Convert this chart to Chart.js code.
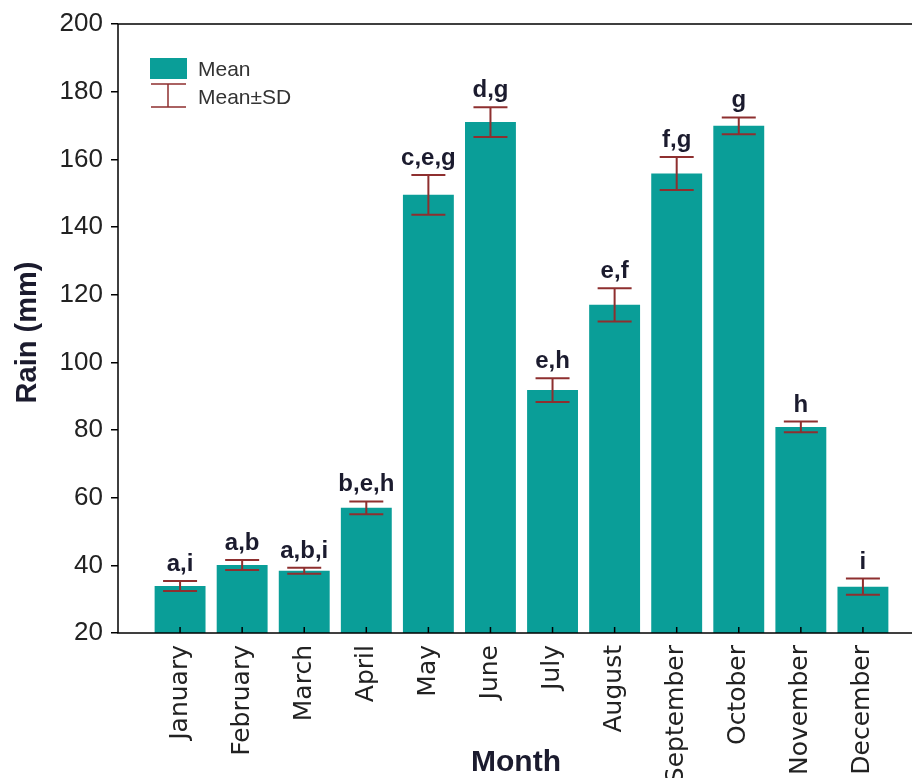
<!DOCTYPE html>
<html lang="en">
<head>
  <meta charset="UTF-8">
  <title>Rain (mm) by month</title>
  <script src="https://cdn.jsdelivr.net/npm/chart.js"></script>
  <style>
    body { margin: 0; background: #fff; overflow: hidden; }
    .wrap { width: 925px; height: 778px; }
  </style>
</head>
<body>
  <div class="wrap"><canvas id="grafico"></canvas></div>

  <script>
    // data
    const months = ['January', 'February', 'March', 'April', 'May', 'June',
                    'July', 'August', 'September', 'October', 'November', 'December'];
    const means  = [33.9, 40.1, 38.4, 57.0, 149.5, 171.0, 91.8, 117.0, 155.8, 169.9, 80.9, 33.7];
    const sds    = [1.5, 1.5, 0.9, 1.9, 5.9, 4.4, 3.5, 4.9, 4.9, 2.5, 1.6, 2.4];
    const groups = ['a,i', 'a,b', 'a,b,i', 'b,e,h', 'c,e,g', 'd,g', 'e,h', 'e,f', 'f,g', 'g', 'h', 'i'];

    const teal = '#0a9e98';
    const errColor = '#8e2f2f';

    // error bars, letters, frame, legend and axis titles
    const extras = {
      id: 'extras',
      afterDatasetsDraw(chart) {
        const { ctx, chartArea: a, scales: { x, y } } = chart;
        ctx.save();

        // error bars + group letters
        means.forEach((m, i) => {
          const px = x.getPixelForValue(i);
          const top = y.getPixelForValue(m + sds[i]);
          const bot = y.getPixelForValue(m - sds[i]);
          ctx.strokeStyle = errColor;
          ctx.lineWidth = 2;
          ctx.beginPath();
          ctx.moveTo(px, top); ctx.lineTo(px, bot);
          ctx.moveTo(px - 17, top); ctx.lineTo(px + 17, top);
          ctx.moveTo(px - 17, bot); ctx.lineTo(px + 17, bot);
          ctx.stroke();

          ctx.fillStyle = '#1b1b2e';
          ctx.font = 'bold 24px Arial, "Liberation Sans"';
          ctx.textAlign = 'center';
          ctx.textBaseline = 'alphabetic';
          ctx.fillText(groups[i], px, top - 10);
        });

        // frame
        ctx.strokeStyle = '#000';
        ctx.lineWidth = 1.5;
        ctx.strokeRect(a.left, a.top, a.width, a.height);

        // x ticks pointing inward
        ctx.beginPath();
        months.forEach((m, i) => {
          const px = x.getPixelForValue(i);
          ctx.moveTo(px, a.bottom); ctx.lineTo(px, a.bottom - 6);
        });
        ctx.stroke();

        // legend
        const lx = a.left + 32, ly = a.top + 34;
        ctx.fillStyle = teal;
        ctx.fillRect(lx, ly, 37, 21);
        ctx.strokeStyle = errColor;
        ctx.lineWidth = 1.5;
        ctx.beginPath();
        ctx.moveTo(lx + 1, ly + 26); ctx.lineTo(lx + 36, ly + 26);
        ctx.moveTo(lx + 18, ly + 26); ctx.lineTo(lx + 18, ly + 49);
        ctx.moveTo(lx + 1, ly + 49); ctx.lineTo(lx + 36, ly + 49);
        ctx.stroke();
        ctx.fillStyle = '#333';
        ctx.font = '21px Arial, "Liberation Sans"';
        ctx.textAlign = 'left';
        ctx.textBaseline = 'middle';
        ctx.fillText('Mean', lx + 48, ly + 12);
        ctx.fillText('Mean\u00B1SD', lx + 48, ly + 40);

        // axis titles
        ctx.fillStyle = '#1b1b2e';
        ctx.font = 'bold 30px Arial, "Liberation Sans"';
        ctx.textAlign = 'center';
        ctx.textBaseline = 'alphabetic';
        ctx.fillText('Month', 516, 771);

        ctx.save();
        ctx.translate(28, (a.top + a.bottom) / 2 + 4);
        ctx.rotate(-Math.PI / 2);
        ctx.textBaseline = 'middle';
        ctx.font = 'bold 29px Arial, "Liberation Sans"';
        ctx.fillText('Rain (mm)', 0, 0);
        ctx.restore();

        ctx.restore();
      }
    };

    new Chart(document.getElementById('grafico'), {
      type: 'bar',
      data: {
        datasets: [{
          label: 'Mean',
          data: means.map((v, i) => ({ x: i, y: v })),
          backgroundColor: teal,
          borderWidth: 0,
          barPercentage: 0.82,
          categoryPercentage: 1
        }]
      },
      options: {
        responsive: true,
        maintainAspectRatio: false,
        animation: false,
        layout: { padding: { top: 24, left: 0, right: 0, bottom: 0 } },
        plugins: { legend: { display: false }, tooltip: { enabled: false } },
        scales: {
          x: {
            type: 'linear',
            min: -1,
            max: 12,
            offset: false,
            afterFit(scale) { scale.height = 145; },
            afterBuildTicks(scale) {
              scale.ticks = months.map((m, i) => ({ value: i }));
            },
            grid: { display: false, drawTicks: false },
            border: { display: false },
            ticks: {
              autoSkip: false,
              maxRotation: 90,
              minRotation: 90,
              padding: 12,
              color: '#222',
              font: { family: '"DejaVu Sans"', size: 25 },
              callback: v => months[v] ?? ''
            }
          },
          y: {
            min: 20,
            max: 200,
            afterFit(scale) { scale.width = 118; },
            grid: { drawOnChartArea: false, drawTicks: true, tickLength: 7, color: '#000', lineWidth: 1.5 },
            border: { display: false },
            ticks: {
              stepSize: 20,
              padding: 8,
              color: '#222',
              font: { family: 'Arial, "Liberation Sans"', size: 26 }
            }
          }
        }
      },
      plugins: [extras]
    });
  </script>
</body>
</html>
